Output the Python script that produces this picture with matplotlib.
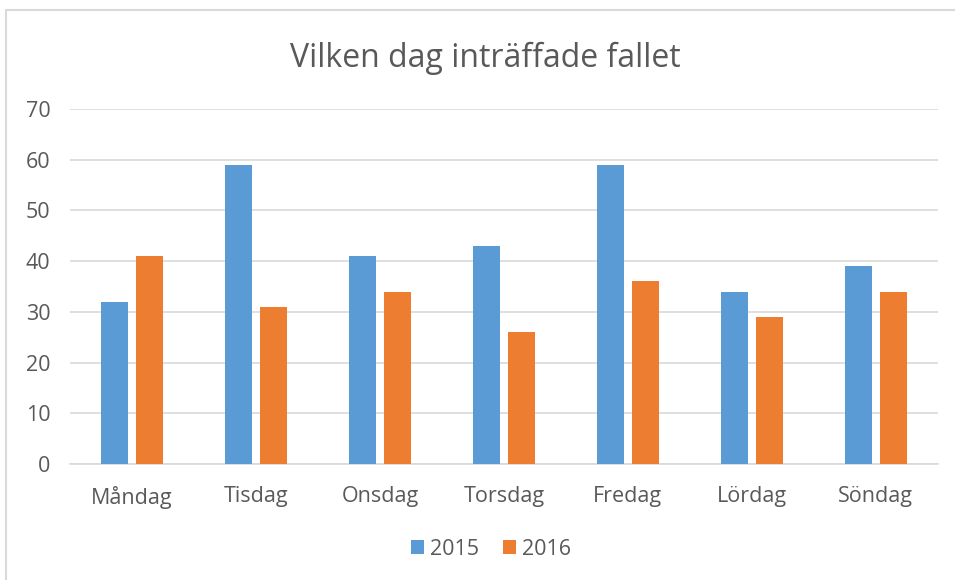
import matplotlib
matplotlib.use("Agg")
import matplotlib.pyplot as plt
from matplotlib.patches import Rectangle
import numpy as np

# data
dagar = ["Måndag", "Tisdag", "Onsdag", "Torsdag", "Fredag", "Lördag", "Söndag"]
ar_2015 = [32, 59, 41, 43, 59, 34, 39]
ar_2016 = [41, 31, 34, 26, 36, 29, 34]
y_ticks = [0, 10, 20, 30, 40, 50, 60, 70]

blue = "#5B9BD5"
orange = "#ED7D31"
grey_text = "#595959"
grid_col = "#D9D9D9"

plt.rcParams["font.family"] = ["Open Sans", "DejaVu Sans"]

fig = plt.figure(figsize=(9.55, 5.8), dpi=100)
ax = fig.add_axes([0.0733, 0.2, 0.9087, 0.612])

# ram runt diagrammet
fig.patches.append(Rectangle((6 / 955, -0.1), 1.2, 1 - 10 / 580 + 0.1,
                             transform=fig.transFigure, fill=False,
                             edgecolor="#D9D9D9", linewidth=1.5))

x = np.arange(len(dagar))
w = 0.22
ax.bar(x - 0.14, ar_2015, w, color=blue, label="2015", zorder=3)
ax.bar(x + 0.14, ar_2016, w, color=orange, label="2016", zorder=3)

ax.set_xlim(-0.5, len(dagar) - 0.5)
ax.set_ylim(0, 70)
ax.set_yticks(y_ticks)
ax.set_xticks(x)
ax.set_xticklabels(dagar)
ax.yaxis.grid(True, color=grid_col, linewidth=1.2, zorder=0)
for s in ["top", "right", "left"]:
    ax.spines[s].set_visible(False)
ax.spines["bottom"].set_color(grid_col)
ax.spines["bottom"].set_linewidth(1.2)
ax.tick_params(axis="both", length=0, labelsize=15.5, labelcolor=grey_text)
ax.tick_params(axis="y", pad=14)
ax.tick_params(axis="x", pad=16)

fig.text(0.508, 0.899, "Vilken dag inträffade fallet", ha="center", va="center",
         fontsize=23, color=grey_text)

fig.legend(loc="center", bbox_to_anchor=(0.514, 0.053), ncol=2, frameon=False,
           fontsize=15.5, labelcolor=grey_text, handlelength=0.6, handleheight=0.6,
           handletextpad=0.3, columnspacing=1.1)

fig.savefig("out.png", dpi=100)
